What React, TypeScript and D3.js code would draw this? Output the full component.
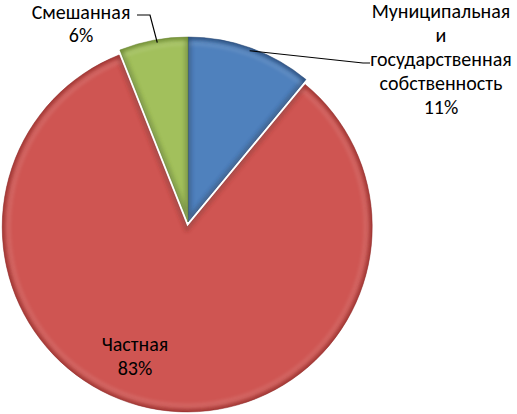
import { useRef, useEffect } from 'react';
import * as d3 from 'd3';

const W = 517;
const H = 414;

// slices, clockwise from 12 o'clock
const labels = ['Муниципальная и государственная собственность', 'Частная', 'Смешанная'];
const values = [11, 83, 6];
const colors = ['#4f81bd', '#cf5552', '#a2c05c'];
const edgeColors = ['#22406a', '#8a2a28', '#5f7a2a'];
const explode = [0, 5, 0];

// label text lines per slice
const labelLines = [
  ['Муниципальная', 'и', 'государственная', 'собственность', '11%'],
  ['Частная', '83%'],
  ['Смешанная', '6%'],
];

const CX = 188;
const CY = 222;
const R = 185;
const FONT = 'Carlito, Calibri, Lato, sans-serif';

export default function App() {
  const svgRef = useRef<SVGSVGElement | null>(null);

  useEffect(() => {
    if (!svgRef.current) return;
    const svg = d3.select(svgRef.current);
    svg.selectAll('*').remove();

    const defs = svg.append('defs');
    defs.append('filter')
      .attr('id', 'soft')
      .attr('x', '-10%').attr('y', '-10%').attr('width', '120%').attr('height', '120%')
      .append('feGaussianBlur')
      .attr('stdDeviation', 2.2);

    const pie = d3.pie<number>().sort(null).startAngle(0).endAngle(2 * Math.PI);
    const arcs = pie(values);
    const arc = d3.arc<d3.PieArcDatum<number>>().innerRadius(0).outerRadius(R);

    const g = svg.append('g').attr('transform', `translate(${CX},${CY})`);

    arcs.forEach((a, i) => {
      const mid = (a.startAngle + a.endAngle) / 2;
      const dx = Math.sin(mid) * explode[i];
      const dy = -Math.cos(mid) * explode[i];
      const sg = g.append('g').attr('transform', `translate(${dx},${dy})`);
      const d = arc(a) as string;

      defs.append('clipPath').attr('id', `clip${i}`).append('path').attr('d', d);

      sg.append('path').attr('d', d).attr('fill', colors[i]);

      // bevel: dark edge blurred inside the slice, light rim just inside
      const inner = sg.append('g').attr('clip-path', `url(#clip${i})`);
      inner.append('path')
        .attr('d', d)
        .attr('fill', 'none')
        .attr('stroke', edgeColors[i])
        .attr('stroke-width', 5)
        .attr('opacity', 0.75)
        .attr('filter', 'url(#soft)');
      inner.append('path')
        .attr('d', d3.arc<d3.PieArcDatum<number>>().innerRadius(0).outerRadius(R - 6)(a) as string)
        .attr('fill', 'none')
        .attr('stroke', '#ffffff')
        .attr('stroke-width', 2)
        .attr('opacity', 0.25)
        .attr('filter', 'url(#soft)');
      sg.append('path')
        .attr('d', d)
        .attr('fill', 'none')
        .attr('stroke', edgeColors[i])
        .attr('stroke-width', 0.8)
        .attr('opacity', 0.6);
    });

    // leader lines
    const pt = (ang: number, r: number): [number, number] => [CX + Math.sin(ang) * r, CY - Math.cos(ang) * r];
    const blueAnchor = pt(arcs[0].startAngle + (arcs[0].endAngle - arcs[0].startAngle) * 0.5, R - 3);
    const greenAnchor = pt(arcs[2].startAngle + (arcs[2].endAngle - arcs[2].startAngle) * 0.55, R - 3);
    const line = d3.line();
    svg.append('path')
      .attr('d', line([blueAnchor, [363, 63], [370, 63]]))
      .attr('fill', 'none').attr('stroke', '#000').attr('stroke-width', 1.2);
    svg.append('path')
      .attr('d', line([greenAnchor, [150, 15], [137, 15]]))
      .attr('fill', 'none').attr('stroke', '#000').attr('stroke-width', 1.2);

    // labels
    const labelPos: [number, number][] = [[441, 18], [135, 351], [81, 19]];
    const lineGap = [24, 24, 23];
    labelLines.forEach((lines, i) => {
      const t = svg.append('text')
        .attr('font-family', FONT)
        .attr('font-size', 20)
        .attr('fill', '#000')
        .attr('text-anchor', 'middle')
        .attr('aria-label', labels[i]);
      lines.forEach((s, k) => {
        t.append('tspan')
          .attr('x', labelPos[i][0])
          .attr('y', labelPos[i][1] + k * lineGap[i])
          .text(s);
      });
    });
  }, []);

  return (
    <div style={{ position: 'absolute', left: 0, top: 0 }}>
      <svg ref={svgRef} width={W} height={H} style={{ display: 'block', background: '#fff' }} />
    </div>
  );
}
